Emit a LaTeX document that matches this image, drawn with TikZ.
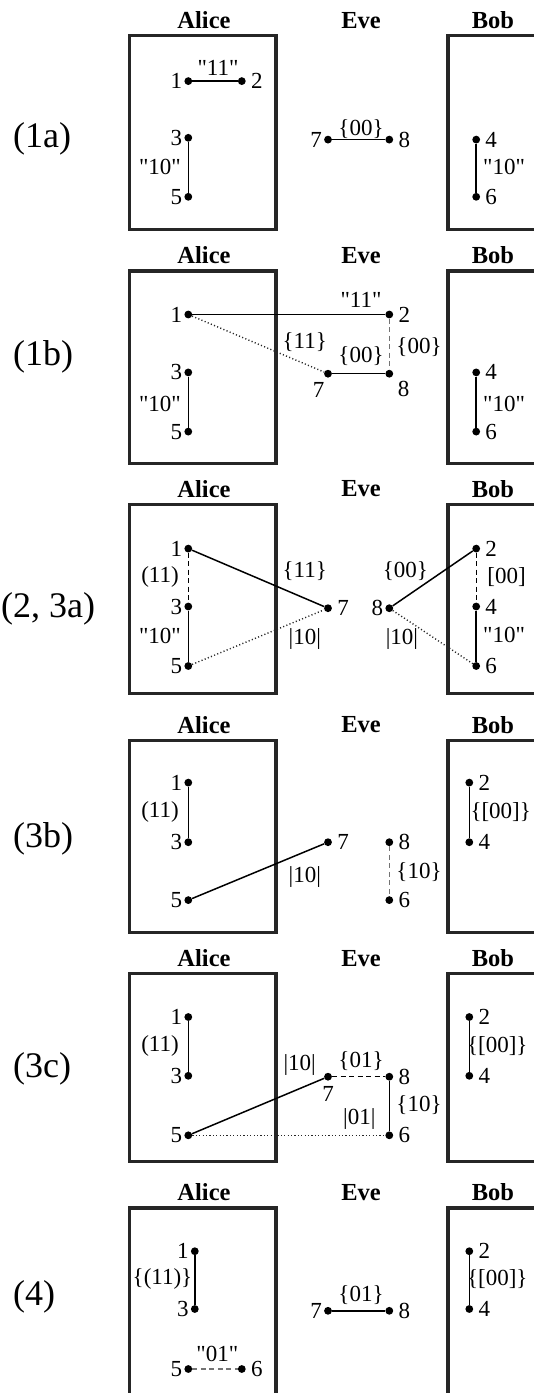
\documentclass[tikz,border=0pt]{standalone}
\usepackage{fontspec}
\setmainfont{Liberation Serif}[Ligatures=TeXOff]
\begin{document}
\begin{tikzpicture}[x=1pt,y=-1pt,
 box/.style={draw=black!85, line width=3.2pt},
 vtx/.style={circle, fill=black, inner sep=0pt, minimum size=7.8pt},
 num/.style={inner sep=0pt, font=\fontsize{23}{26}\selectfont},
 txt/.style={inner sep=0pt, font=\fontsize{23}{26}\selectfont},
 head/.style={inner sep=0pt, font=\fontsize{24.5}{28}\selectfont\bfseries},
 plab/.style={inner sep=0pt, anchor=west, font=\fontsize{36}{40}\selectfont},
 numl/.style={label={[num,xshift=-12pt]center:#1}},
 numr/.style={label={[num,xshift=15pt]center:#1}},
 con/.style={line width=1.5pt},
 dotl/.style={line width=1.4pt, dash pattern=on 1.1pt off 2.3pt, black!85},
 dsh/.style={line width=1.3pt, dash pattern=on 5pt off 3.5pt},
 dshg/.style={dsh, black!55},
]
\useasboundingbox (0,0) rectangle (534,1393);

% panel labels
\node[plab] (p1) at (13,139) {(1a)};
\node[plab] (p2) at (13,357) {(1b)};
\node[plab] (p3) at (1,609) {(2, 3a)};
\node[plab] (p4) at (13,839) {(3b)};
\node[plab] (p5) at (13,1069) {(3c)};
\node[plab] (p6) at (13,1297) {(4)};

% ---------------- (1a)
\begin{scope}[shift={(0,35.8)}]
\node[head] (ha1) at (204,-15.5) {Alice};
\node[head] (ha2) at (361,-15.5) {Eve};
\node[head] (ha3) at (493,-15.5) {Bob};
\draw[box] (129.5,0) rectangle (276,194);
\draw[box] (448,0) rectangle (536.6,194);
\node[vtx,numl=1] (a1) at (188.3,45.3) {};
\node[vtx,numr=2] (a2) at (241.8,45.3) {};
\node[vtx,numl=3] (a3) at (188.3,102) {};
\node[vtx,numl=5] (a5) at (188.3,161) {};
\node[vtx,numl=7] (a7) at (328,103.8) {};
\node[vtx,numr=8] (a8) at (389.3,103.8) {};
\node[vtx,numr=4] (a4) at (476.2,103.8) {};
\node[vtx,numr=6] (a6) at (476.2,161) {};
\draw[con] (a1) -- (a2);
\draw[con] (a3) -- (a5);
\draw[con] (a7) -- (a8);
\draw[con] (a4) -- (a6);
\node[txt] (ta1) at (218,32.2) {"11"};
\node[txt] (ta2) at (160,131.2) {"10"};
\node[txt] (ta3) at (361,93.2) {\{00\}};
\node[txt] (ta4) at (504,131.2) {"10"};
\end{scope}

% ---------------- (1b)
\begin{scope}[shift={(0,270.9)}]
\node[head] (hb1) at (204,-15.5) {Alice};
\node[head] (hb2) at (361,-15.5) {Eve};
\node[head] (hb3) at (493,-15.5) {Bob};
\draw[box] (129.5,0) rectangle (276,192.4);
\draw[box] (448,0) rectangle (536.6,192.4);
\node[vtx,numl=1] (b1) at (188.3,43.6) {};
\node[vtx,numr=2] (b2) at (389.3,43.6) {};
\node[vtx,label={[num,xshift=-9.5pt,yshift=-16.3pt]center:7}] (b7) at (328,102.8) {};
\node[vtx,label={[num,xshift=14.3pt,yshift=-15.7pt]center:8}] (b8) at (389.3,102.8) {};
\node[vtx,numl=3] (b3) at (188.3,101.5) {};
\node[vtx,numl=5] (b5) at (188.3,160.7) {};
\node[vtx,numr=4] (b4) at (476.2,101.5) {};
\node[vtx,numr=6] (b6) at (476.2,160.7) {};
\draw[con] (b1) -- (b2);
\draw[dotl] (b1) -- (b7);
\draw[con] (b7) -- (b8);
\draw[dshg] (b2) -- (b8);
\draw[con] (b3) -- (b5);
\draw[con] (b4) -- (b6);
\node[txt] (tb1) at (361,28.9) {"11"};
\node[txt] (tb2) at (304.8,71.5) {\{11\}};
\node[txt] (tb3) at (361,85.1) {\{00\}};
\node[txt] (tb4) at (419,76.6) {\{00\}};
\node[txt] (tb5) at (160,132.8) {"10"};
\node[txt] (tb6) at (504,132.8) {"10"};
\end{scope}

% ---------------- (2, 3a)
\begin{scope}[shift={(0,504.3)}]
\node[head] (hc1) at (204,-15.5) {Alice};
\node[head] (hc2) at (361,-15.5) {Eve};
\node[head] (hc3) at (493,-15.5) {Bob};
\draw[box] (129.5,0) rectangle (276,189.5);
\draw[box] (448,0) rectangle (536.6,189.5);
\node[vtx,numl=1] (c1) at (188.3,44.3) {};
\node[vtx,numl=3] (c3) at (188.3,102.2) {};
\node[vtx,numl=5] (c5) at (188.3,161.7) {};
\node[vtx,numr=7] (c7) at (328,103.9) {};
\node[vtx,numl=8] (c8) at (389.3,103.9) {};
\node[vtx,numr=2] (c2) at (476.2,44.3) {};
\node[vtx,numr=4] (c4) at (476.2,102.2) {};
\node[vtx,numr=6] (c6) at (476.2,161.7) {};
\draw[dsh] (c1) -- (c3);
\draw[con] (c3) -- (c5);
\draw[con] (c1) -- (c7);
\draw[dotl] (c5) -- (c7);
\draw[con] (c8) -- (c2);
\draw[dotl] (c8) -- (c6);
\draw[dsh] (c2) -- (c4);
\draw[con] (c4) -- (c6);
\node[txt] (tc1) at (160,72.5) {(11)};
\node[txt] (tc2) at (160,132.1) {"10"};
\node[txt] (tc3) at (304.8,67.1) {\{11\}};
\node[txt] (tc4) at (304.8,134.5) {|10|};
\node[txt] (tc5) at (405.3,67.1) {\{00\}};
\node[txt] (tc6) at (401.9,134.5) {|10|};
\node[txt] (tc7) at (506.5,73.2) {[00]};
\node[txt] (tc8) at (504,131.1) {"10"};
\end{scope}

% ---------------- (3b)
\begin{scope}[shift={(0,740.4)}]
\node[head] (hd1) at (204,-15.5) {Alice};
\node[head] (hd2) at (361,-15.5) {Eve};
\node[head] (hd3) at (493,-15.5) {Bob};
\draw[box] (129.5,0) rectangle (276,192);
\draw[box] (448,0) rectangle (536.6,192);
\node[vtx,numl=1] (d1) at (188.3,42.2) {};
\node[vtx,numl=3] (d3) at (188.3,101.8) {};
\node[vtx,numl=5] (d5) at (188.3,159.7) {};
\node[vtx,numr=7] (d7) at (328,101.8) {};
\node[vtx,numr=8] (d8) at (389.3,101.8) {};
\node[vtx,numr=6] (d6) at (389.3,159.7) {};
\node[vtx,numr=2] (d2) at (469.3,42.2) {};
\node[vtx,numr=4] (d4) at (469.3,101.8) {};
\draw[con] (d1) -- (d3);
\draw[con] (d5) -- (d7);
\draw[dshg] (d8) -- (d6);
\draw[con] (d2) -- (d4);
\node[txt] (td1) at (160,71.2) {(11)};
\node[txt] (td2) at (304.8,136.2) {|10|};
\node[txt] (td3) at (419,131.8) {\{10\}};
\node[txt] (td4) at (500.7,71.2) {\{[00]\}};
\end{scope}

% ---------------- (3c)
\begin{scope}[shift={(0,973.8)}]
\node[head] (he1) at (204,-15.5) {Alice};
\node[head] (he2) at (361,-15.5) {Eve};
\node[head] (he3) at (493,-15.5) {Bob};
\draw[box] (129.5,0) rectangle (276,188);
\draw[box] (448,0) rectangle (536.6,188);
\node[vtx,numl=1] (e1) at (188.3,43.2) {};
\node[vtx,numl=3] (e3) at (188.3,102) {};
\node[vtx,numl=5] (e5) at (188.3,161.5) {};
\node[vtx,label={[num,yshift=-17pt]center:7}] (e7) at (328,102.9) {};
\node[vtx,numr=8] (e8) at (389.3,102.9) {};
\node[vtx,numr=6] (e6) at (389.3,161.5) {};
\node[vtx,numr=2] (e2) at (469.3,43.2) {};
\node[vtx,numr=4] (e4) at (469.3,102) {};
\draw[con] (e1) -- (e3);
\draw[con] (e5) -- (e7);
\draw[dsh] (e7) -- (e8);
\draw[con] (e8) -- (e6);
\draw[dotl] (e5) -- (e6);
\draw[con] (e2) -- (e4);
\node[txt] (te1) at (160,72.2) {(11)};
\node[txt] (te2) at (299.7,91) {|10|};
\node[txt] (te3) at (361,87.5) {\{01\}};
\node[txt] (te4) at (419,130.8) {\{10\}};
\node[txt] (te5) at (359.3,145.4) {|01|};
\node[txt] (te6) at (497.3,72.2) {\{[00]\}};
\end{scope}

% ---------------- (4)
\begin{scope}[shift={(0,1207.9)}]
\node[head] (hf1) at (204,-15.5) {Alice};
\node[head] (hf2) at (361,-15.5) {Eve};
\node[head] (hf3) at (493,-15.5) {Bob};
\draw[box] (129.5,0) rectangle (276,187.7);
\draw[box] (448,0) rectangle (536.6,187.7);
\node[vtx,numl=1] (f1) at (194.8,43.3) {};
\node[vtx,numl=3] (f3) at (194.8,101.1) {};
\node[vtx,numl=5] (f5) at (188.3,161.1) {};
\node[vtx,numr=6] (f6) at (241.8,161.1) {};
\node[vtx,numl=7] (f7) at (328,102.9) {};
\node[vtx,numr=8] (f8) at (389.3,102.9) {};
\node[vtx,numr=2] (f2) at (469.3,43.3) {};
\node[vtx,numr=4] (f4) at (469.3,101.1) {};
\draw[con] (f1) -- (f3);
\draw[dshg] (f5) -- (f6);
\draw[con] (f7) -- (f8);
\draw[con] (f2) -- (f4);
\node[txt] (tf1) at (162.5,71.5) {\{(11)\}};
\node[txt] (tf2) at (217.3,145.8) {"01"};
\node[txt] (tf3) at (361,86.9) {\{01\}};
\node[txt] (tf4) at (497.3,71.5) {\{[00]\}};
\end{scope}
\end{tikzpicture}
\end{document}
